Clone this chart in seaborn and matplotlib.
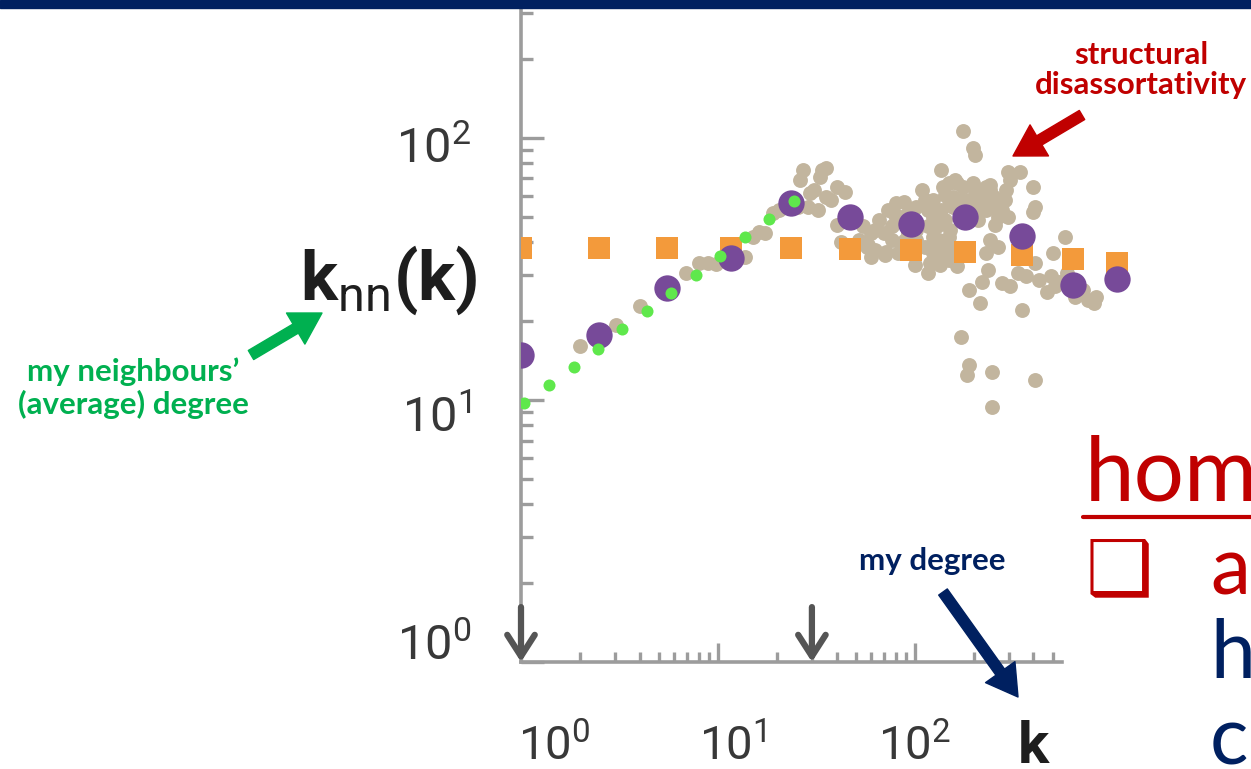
import matplotlib
matplotlib.use("Agg")
import matplotlib.pyplot as plt
import seaborn as sns
from matplotlib.lines import Line2D
from matplotlib.patches import Rectangle, FancyArrowPatch
from matplotlib.ticker import FixedLocator
from matplotlib.transforms import ScaledTranslation

# log-binned averages: real network vs. randomised network
k_bins = [1.0, 2.5, 5.5, 11.6, 23.5, 47, 95, 179, 349, 638, 1060]
knn_real = [14.8, 17.7, 26.8, 34.8, 56.5, 49.9, 47.0, 49.9, 42.3, 27.5, 29.0]
knn_random = [37.9, 37.9, 37.9, 37.9, 37.9, 37.6, 37.4, 36.8, 35.8, 34.5, 33.3]

# green dotted trend
k_trend = [1.04, 1.39, 1.85, 2.46, 3.27, 4.36, 5.80, 7.72, 10.3, 13.7, 18.2, 24.3]
knn_trend = [9.77, 11.4, 13.4, 15.7, 18.6, 21.9, 25.7, 30.0, 35.4, 41.8, 48.9, 57.5]

# individual nodes (grey cloud)
k_nodes = [2.00, 3.02, 4.02, 6.86, 7.99, 8.91, 9.80, 13.7, 15.1, 16.2, 17.4, 19.1, 20.5,
           27.0, 26.1, 33.9, 35.5, 33.1, 30.8, 29.4, 35.5, 40.1, 44.1, 37.3, 32.3, 28.7,
           25.5, 40.1, 42.0, 54.7, 60.1, 66.1, 72.7, 80.0, 88.0, 63.0, 60.1, 71.0, 76.2,
           85.9, 92.3, 101.6, 109, 117, 123, 129, 132, 123, 120, 135, 142, 149, 135, 139,
           149, 164, 176, 172, 156, 189, 208, 218, 229, 240, 252, 277, 297, 290, 304, 297,
           343, 396, 405, 396, 240, 264, 229, 234, 218, 189, 213, 172, 189, 184, 245, 245,
           405, 351, 277, 304, 335, 368, 405, 502, 579, 425, 490, 540, 468, 514, 593, 653,
           754, 809, 829, 718, 176, 198, 203, 117, 164, 149, 156, 84, 92.3, 101.6, 112,
           123, 52.1, 57.3, 69.3, 76.2, 101.6, 112, 123, 142, 156, 172, 189, 208, 229, 252,
           264, 149, 135, 117, 92.3, 82.0, 198, 218, 240, 270,
           62.7, 70.4, 79.1, 89.0, 112, 126, 142, 151, 202, 227, 255, 286, 134, 169, 100,
           57.7, 160, 240]
knn_nodes = [16.1, 19.3, 22.8, 30.5, 33.4, 33.2, 33.0, 35.2, 42.0, 43.9, 43.3, 51.6, 53.1,
             75.5, 69.2, 75.5, 76.6, 71.2, 63.3, 61.5, 59.7, 65.2, 62.4, 58.0, 53.1, 54.7,
             54.7, 46.6, 40.2, 45.9, 43.3, 48.6, 53.1, 56.3, 57.1, 37.4, 35.2, 36.8, 40.8,
             39.6, 43.3, 44.5, 63.3, 53.1, 50.1, 45.9, 40.8, 36.3, 33.2, 35.2, 38.5, 42.0,
             75.5, 65.2, 67.1, 67.1, 65.2, 58.0, 54.7, 58.0, 58.0, 53.1, 65.2, 58.0, 54.7,
             53.1, 50.1, 63.3, 69.2, 74.4, 74.4, 65.2, 54.7, 52.3, 40.8, 38.5, 36.3, 31.3,
             28.3, 26.3, 23.4, 17.4, 13.6, 12.5, 12.8, 9.43, 11.9, 22.1, 27.9, 27.1, 30.5,
             29.6, 33.2, 36.3, 42.0, 28.7, 29.6, 28.3, 25.9, 27.1, 30.5, 24.8, 24.1, 23.4,
             24.8, 26.3, 106, 91.4, 86.1, 30.5, 32.3, 34.2, 37.4, 50.1, 51.6, 54.7, 58.0,
             58.0, 40.8, 38.5, 43.3, 45.9, 40.8, 38.5, 42.0, 48.6, 59.7, 50.1, 53.1, 48.6,
             53.1, 59.7, 50.1, 58.0, 53.1, 45.9, 38.5, 36.3, 67.1, 61.5, 63.3, 58.0,
             44.6, 35.8, 50.8, 40.8, 55.5, 37.4, 60.6, 44.6, 63.4, 55.5, 46.5, 58.0, 32.7,
             35.8, 32.7, 39.1, 69.2, 66.2]

arrow_k = [1, 30]
x_ticks = [1, 10, 100]
x_labels = [r"$\mathregular{10^{0}}$", r"$\mathregular{10^{1}}$", r"$\mathregular{10^{2}}$"]
y_ticks = [1, 10, 100]
y_labels = [r"$\mathregular{10^{0}}$", r"$\mathregular{10^{1}}$", r"$\mathregular{10^{2}}$"]

sns.set_theme(style="white")
plt.rcParams["font.family"] = ["Roboto", "DejaVu Sans"]
plt.rcParams["mathtext.fontset"] = "custom"
plt.rcParams["mathtext.bf"] = "Roboto:bold"
plt.rcParams["mathtext.rm"] = "Roboto"

W, H = 1251, 769
fig = plt.figure(figsize=(W / 100, H / 100), dpi=100)

def fx(x):
    return x / W

def fy(y):
    return 1 - y / H

ax = fig.add_axes([fx(521), fy(662), fx(1140) - fx(521), fy(8) - fy(662)])
ax.set_xscale("log")
ax.set_yscale("log")

sns.scatterplot(x=k_nodes, y=knn_nodes, ax=ax, color="#c2b59e", s=115, linewidth=0, zorder=2)
sns.scatterplot(x=k_bins, y=knn_random, ax=ax, color="#f39a3b", marker="s", s=270, linewidth=0, zorder=3)
sns.scatterplot(x=k_bins, y=knn_real, ax=ax, color="#774a99", s=360, linewidth=0, zorder=4)
sns.scatterplot(x=k_trend, y=knn_trend, ax=ax, color="#5fe84c", s=75, linewidth=0, zorder=5)

ax.set_xlim(1, 1390)
ax.set_ylim(1, 313)

grey = "#9c9c9c"
for s in ["top", "right"]:
    ax.spines[s].set_visible(False)
for s in ["left", "bottom"]:
    ax.spines[s].set_color(grey)
    ax.spines[s].set_linewidth(2.6)
ax.spines["bottom"].set_bounds(1, 557)

ax.xaxis.set_major_locator(FixedLocator(x_ticks))
ax.xaxis.set_minor_locator(FixedLocator([m * d for d in [1, 10] for m in range(2, 10)] + [200, 300, 400, 500]))
ax.yaxis.set_major_locator(FixedLocator(y_ticks))
ax.yaxis.set_minor_locator(FixedLocator([m * d for d in [1, 10] for m in range(2, 10)] + [200, 300]))
ax.tick_params(axis="x", which="both", bottom=True, top=False)
ax.tick_params(axis="y", which="both", left=True, right=False)
ax.tick_params(axis="x", which="major", direction="in", length=14, width=2.4, color=grey, pad=44)
ax.tick_params(axis="x", which="minor", direction="in", length=7, width=2.4, color=grey)
ax.tick_params(axis="y", which="major", direction="in", length=16.5, width=2.4, color=grey, pad=36)
ax.tick_params(axis="y", which="minor", direction="in", length=8.5, width=2.4, color=grey)

ax.set_xticklabels(x_labels, fontsize=34, color="#383838")
ax.set_yticklabels(y_labels, fontsize=35, color="#383838")
for lab, dx in zip(ax.get_xticklabels(), [33, 15, 0]):
    lab.set_transform(lab.get_transform() + ScaledTranslation(dx / 100, 0, fig.dpi_scale_trans))
for lab, dy in zip(ax.get_yticklabels(), [20, -14, -7]):
    lab.set_transform(lab.get_transform() + ScaledTranslation(0, dy / 100, fig.dpi_scale_trans))

# down arrows on the k axis
for k in arrow_k:
    ax.annotate("", xy=(k, 1.0), xytext=(k, 1.62), annotation_clip=False,
                arrowprops=dict(arrowstyle="->,head_length=0.7,head_width=0.45", color="#555555",
                                lw=4.5, mutation_scale=22, shrinkA=0, shrinkB=0), zorder=6)

# axis titles
fig.text(fx(300), fy(300), r"$\mathbf{k}_{\mathrm{nn}}\mathbf{(k)}$", fontsize=50,
         color="#1e1e1e", ha="left", va="baseline")
fig.text(fx(1033), fy(763), "k", fontsize=42, fontweight="bold", color="#1e1e1e",
         ha="center", va="baseline")

# slide banner
fig.patches.append(Rectangle((0, fy(8)), 1, 8 / H, transform=fig.transFigure,
                             color="#002060", zorder=10))

def arrow(tail, head, color):
    fig.patches.append(FancyArrowPatch((fx(tail[0]), fy(tail[1])), (fx(head[0]), fy(head[1])),
                                       transform=fig.transFigure, color=color,
                                       arrowstyle="simple,head_length=1.1,head_width=1.3,tail_width=0.38",
                                       mutation_scale=20, shrinkA=0, shrinkB=0, zorder=8))

fig.text(fx(133), fy(388), "my neighbours’\n(average) degree", color="#00b050", fontsize=22.5,
         fontweight="bold", family="Lato", ha="center", va="center", linespacing=1.15)
arrow((251, 355), (322, 313), "#00b050")

fig.text(fx(1141), fy(70), "structural\ndisassortativity", color="#c00000", fontsize=22.5,
         fontweight="bold", family="Lato", ha="center", va="center", linespacing=1.1)
arrow((1082, 115), (1013, 156), "#c00000")

fig.text(fx(932), fy(561), "my degree", color="#002060", fontsize=22.5,
         fontweight="bold", family="Lato", ha="center", va="center")
arrow((943, 592), (1018, 697), "#002060")

# clipped slide text on the right
fig.text(fx(1085), fy(501), "homophily", color="#c00000", fontsize=64, family="Lato", va="baseline")
fig.lines.append(Line2D([fx(1083), fx(1260)], [fy(517), fy(517)], color="#c00000", lw=3,
                        transform=fig.transFigure))
fig.text(fx(1086), fy(593), "❑", color="#c00000", fontsize=54, family="DejaVu Sans", va="baseline")
fig.text(fx(1210), fy(593), "assortative", color="#c00000", fontsize=58, family="Lato", va="baseline")
fig.text(fx(1210), fy(678), "hubs", color="#002060", fontsize=58, family="Lato", va="baseline")
fig.text(fx(1210), fy(763), "clustered", color="#002060", fontsize=58, family="Lato", va="baseline")

fig.savefig("out.png", dpi=100)
